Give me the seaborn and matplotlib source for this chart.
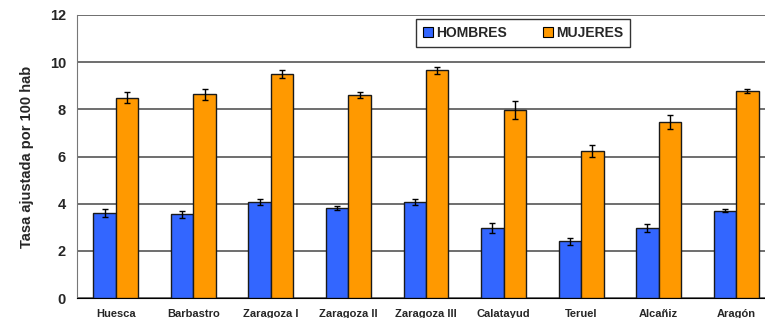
import pandas as pd
import matplotlib.pyplot as plt
import seaborn as sns

sectores = ["Huesca", "Barbastro", "Zaragoza I", "Zaragoza II", "Zaragoza III",
            "Calatayud", "Teruel", "Alcañiz", "Aragón"]
hombres     = [3.60, 3.56, 4.07, 3.80, 4.07, 2.97, 2.40, 2.97, 3.70]
hombres_err = [0.16, 0.15, 0.13, 0.08, 0.11, 0.23, 0.16, 0.17, 0.06]
mujeres     = [8.49, 8.64, 9.49, 8.60, 9.65, 7.97, 6.25, 7.46, 8.77]
mujeres_err = [0.23, 0.23, 0.18, 0.12, 0.16, 0.37, 0.25, 0.28, 0.08]
series = ["HOMBRES", "MUJERES"]

BLUE = "#3366FF"
ORANGE = "#FF9900"

df = pd.DataFrame({
    "sector": sectores * 2,
    "sexo": [series[0]] * len(sectores) + [series[1]] * len(sectores),
    "tasa": hombres + mujeres,
})

sns.set_style("white")
plt.rcParams["font.family"] = ["Liberation Sans", "DejaVu Sans"]

fig = plt.figure(figsize=(7.65, 3.18), dpi=100)
ax = fig.add_axes([77 / 765, 20 / 318, 698 / 765, 283 / 318])

sns.barplot(data=df, x="sector", y="tasa", hue="sexo", order=sectores, hue_order=series,
            palette=[BLUE, ORANGE], width=0.58, edgecolor="#1a1a1a", linewidth=1.0,
            saturation=1, errorbar=None, ax=ax, zorder=3)

# error bars on top of each bar
for cont, vals, errs in zip(ax.containers, [hombres, mujeres], [hombres_err, mujeres_err]):
    xs = [p.get_x() + p.get_width() / 2 for p in cont.patches]
    ax.errorbar(xs, vals, yerr=errs, fmt="none", ecolor="black", elinewidth=1,
                capsize=2.5, capthick=1, zorder=4)

ax.set_xlim(-0.5, len(sectores) - 0.5)
ax.set_ylim(0, 12)
ax.set_yticks(range(0, 13, 2))
ax.yaxis.grid(True, color="#555555", linewidth=1.2, zorder=0)
ax.tick_params(axis="y", labelsize=10.5, length=0, pad=8)
ax.tick_params(axis="x", labelsize=8, length=0, pad=8)
for lab in ax.get_yticklabels() + ax.get_xticklabels():
    lab.set_fontweight("bold")
ax.set_xlabel("")
ax.set_ylabel("Tasa ajustada por 100 hab", fontsize=10.5, fontweight="bold", labelpad=11)

for s in ["top", "right"]:
    ax.spines[s].set_visible(False)
ax.spines["left"].set_color("#777777")
ax.spines["bottom"].set_color("black")

leg = ax.legend(loc="upper left", bbox_to_anchor=(0.486, 0.986), borderaxespad=0,
                ncol=2, frameon=True, fancybox=False, edgecolor="black", fontsize=10,
                handlelength=0.7, handleheight=0.7, handletextpad=0.25,
                columnspacing=2.6, borderpad=0.5)
leg.get_frame().set_linewidth(1.0)
for t in leg.get_texts():
    t.set_fontweight("bold")
for h in leg.legend_handles:
    h.set_edgecolor("black")
    h.set_linewidth(0.8)

fig.savefig("out.png", dpi=100, facecolor="white")
